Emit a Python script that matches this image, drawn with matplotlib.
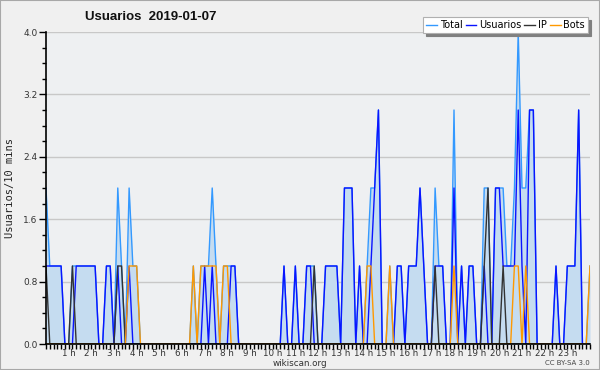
import numpy as np
import matplotlib
matplotlib.use("Agg")
import matplotlib.pyplot as plt
from matplotlib.patches import Rectangle

# valores cada 10 minutos (0:00 .. 24:00), una fila = 2 horas
total = [
    2, 1, 1, 1, 1, 0, 0, 1, 1, 1, 1, 1,
    1, 1, 0, 0, 1, 1, 0, 2, 1, 0, 2, 1,
    1, 0, 0, 0, 0, 0, 0, 0, 0, 0, 0, 0,
    0, 0, 0, 1, 0, 1, 1, 1, 2, 1, 0, 1,
    1, 1, 1, 0, 0, 0, 0, 0, 0, 0, 0, 0,
    0, 0, 0, 1, 0, 0, 1, 0, 0, 1, 1, 1,
    0, 0, 1, 1, 1, 1, 0, 2, 2, 2, 0, 1,
    0, 1, 2, 2, 3, 0, 0, 1, 0, 1, 1, 0,
    1, 1, 1, 2, 1, 0, 0, 2, 1, 1, 0, 0,
    3, 0, 1, 0, 1, 1, 0, 0, 2, 2, 0, 2,
    2, 2, 1, 1, 2, 4, 2, 2, 3, 3, 0, 0,
    0, 0, 0, 1, 0, 0, 1, 1, 1, 3, 0, 0,
    1,
]
usuarios = [
    1, 1, 1, 1, 1, 0, 0, 0, 1, 1, 1, 1,
    1, 1, 0, 0, 1, 1, 0, 1, 0, 0, 1, 0,
    0, 0, 0, 0, 0, 0, 0, 0, 0, 0, 0, 0,
    0, 0, 0, 0, 0, 0, 1, 0, 1, 0, 0, 0,
    0, 1, 1, 0, 0, 0, 0, 0, 0, 0, 0, 0,
    0, 0, 0, 1, 0, 0, 1, 0, 0, 1, 1, 0,
    0, 0, 1, 1, 1, 1, 0, 2, 2, 2, 0, 1,
    0, 0, 1, 2, 3, 0, 0, 0, 0, 1, 1, 0,
    1, 1, 1, 2, 1, 0, 0, 1, 1, 1, 0, 0,
    2, 0, 1, 0, 1, 1, 0, 0, 1, 0, 0, 2,
    2, 1, 1, 1, 1, 3, 1, 0, 3, 3, 0, 0,
    0, 0, 0, 1, 0, 0, 1, 1, 1, 3, 0, 0,
    0,
]
ip = [
    1, 0, 0, 0, 0, 0, 0, 1, 0, 0, 0, 0,
    0, 0, 0, 0, 0, 0, 0, 1, 1, 0, 0, 0,
    0, 0, 0, 0, 0, 0, 0, 0, 0, 0, 0, 0,
    0, 0, 0, 0, 0, 0, 0, 0, 0, 0, 0, 0,
    0, 0, 0, 0, 0, 0, 0, 0, 0, 0, 0, 0,
    0, 0, 0, 0, 0, 0, 0, 0, 0, 0, 0, 1,
    0, 0, 0, 0, 0, 0, 0, 0, 0, 0, 0, 0,
    0, 0, 0, 0, 0, 0, 0, 0, 0, 0, 0, 0,
    0, 0, 0, 0, 0, 0, 0, 1, 0, 0, 0, 0,
    0, 0, 0, 0, 0, 0, 0, 0, 1, 2, 0, 0,
    0, 1, 0, 0, 0, 0, 0, 0, 0, 0, 0, 0,
    0, 0, 0, 0, 0, 0, 0, 0, 0, 0, 0, 0,
    0,
]
bots = [
    0, 0, 0, 0, 0, 0, 0, 0, 0, 0, 0, 0,
    0, 0, 0, 0, 0, 0, 0, 0, 0, 0, 1, 1,
    1, 0, 0, 0, 0, 0, 0, 0, 0, 0, 0, 0,
    0, 0, 0, 1, 0, 1, 1, 1, 1, 1, 0, 1,
    1, 0, 0, 0, 0, 0, 0, 0, 0, 0, 0, 0,
    0, 0, 0, 0, 0, 0, 0, 0, 0, 0, 0, 0,
    0, 0, 0, 0, 0, 0, 0, 0, 0, 0, 0, 0,
    0, 1, 1, 0, 0, 0, 0, 1, 0, 0, 0, 0,
    0, 0, 0, 0, 0, 0, 0, 0, 0, 0, 0, 0,
    1, 0, 0, 0, 0, 0, 0, 0, 0, 0, 0, 0,
    0, 0, 0, 0, 1, 1, 0, 1, 0, 0, 0, 0,
    0, 0, 0, 0, 0, 0, 0, 0, 0, 0, 0, 0,
    1,
]
horas = list(range(1, 24))
etiquetas_h = [f"{h} h" for h in horas]

x = np.arange(len(total)) / 6.0

plt.rcParams['font.family'] = ['DejaVu Sans']

fig = plt.figure(figsize=(6, 3.7), dpi=100, facecolor='#f0f0f0')
ax = fig.add_axes([46 / 600, 1 - 344 / 370, 544 / 600, 312 / 370])
ax.set_facecolor('#eef0f2')

# marco gris de la imagen
fig.patches.append(Rectangle((0, 0), 1, 1, transform=fig.transFigure,
                             fill=False, edgecolor='#a8a8a8', linewidth=1.5))

ax.fill_between(x, total, 0, color='#c5dcf0', linewidth=0, zorder=1)
ax.plot(x, total, color='#3399ff', lw=1.0, label='Total', zorder=2)
ax.plot(x, usuarios, color='#0a14ff', lw=1.0, label='Usuarios', zorder=3)
ax.plot(x, ip, color='#333333', lw=1.0, label='IP', zorder=4)
ax.plot(x, bots, color='#ff9900', lw=1.0, label='Bots', zorder=5)

ax.set_xlim(0, 24)
ax.set_ylim(0, 4.0)

ax.set_yticks(np.arange(0, 4.01, 0.8))
ax.set_yticklabels([f"{v:.1f}" for v in np.arange(0, 4.01, 0.8)])
ax.set_yticks(np.arange(0, 4.01, 0.2), minor=True)
ax.set_xticks(horas)
ax.set_xticklabels(etiquetas_h)
ax.set_xticks(np.arange(0, 24.01, 1 / 6), minor=True)

ax.grid(axis='y', which='major', color='#c8c8c8', lw=1)
ax.set_axisbelow(True)

for s in ['top', 'right']:
    ax.spines[s].set_visible(False)
for s in ['left', 'bottom']:
    ax.spines[s].set_color('black')
    ax.spines[s].set_linewidth(1.2)
    ax.spines[s].set_zorder(6)

ax.tick_params(axis='x', which='both', length=3.5, width=1, labelsize=6.3,
               pad=0, colors='black', labelcolor='#333333')
ax.tick_params(axis='y', which='major', length=5, width=1, labelsize=6.5,
               pad=1, labelcolor='#333333')
ax.tick_params(axis='y', which='minor', length=3, width=1)

fig.text(10 / 600, 1 - 188 / 370, 'Usuarios/10 mins', rotation=90,
         ha='center', va='center', fontsize=7.5, family='DejaVu Sans Mono',
         color='#222222')
fig.text(85 / 600, 1 - 17 / 370, 'Usuarios  2019-01-07', ha='left',
         va='center', fontsize=9.5, fontweight='bold',
         family='Liberation Sans', color='#111111')
fig.text(300 / 600, 1 - 363 / 370, 'wikiscan.org', ha='center', va='center',
         fontsize=6.3, color='#333333')
fig.text(590 / 600, 1 - 363 / 370, 'CC BY-SA 3.0', ha='right', va='center',
         fontsize=5, color='#444444')

leg = fig.legend(loc='upper right', bbox_to_anchor=(588 / 600, 1 - 17 / 370),
                 ncol=4, fontsize=7, frameon=True, fancybox=False,
                 shadow={'color': '#808080', 'alpha': 1},
                 borderpad=0.3, handlelength=1.1, handletextpad=0.3,
                 columnspacing=0.3, borderaxespad=0)
leg.get_frame().set_edgecolor('#b0b0b0')
leg.get_frame().set_facecolor('white')
leg.get_frame().set_linewidth(0.8)
leg.set_zorder(10)

fig.savefig('out.png', dpi=100, facecolor=fig.get_facecolor())
